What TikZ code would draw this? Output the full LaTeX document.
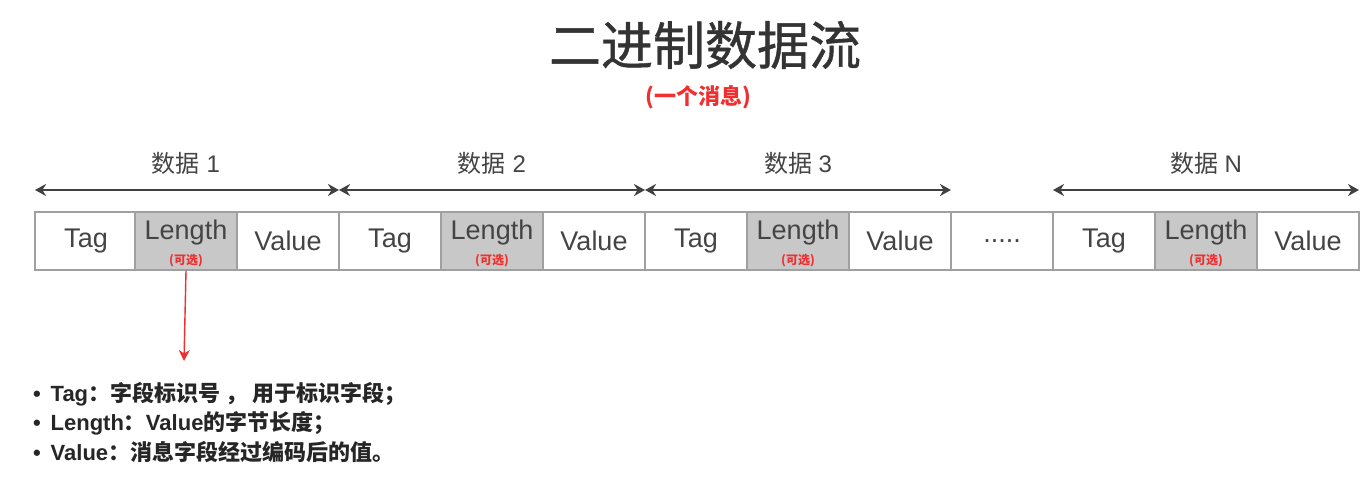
\documentclass[tikz,border=0pt]{standalone}
\usepackage{fontspec}
\setmainfont{Liberation Sans}
\newfontfamily\cjk{Noto Sans CJK SC}
\newfontfamily\cjkmed[FakeBold=0.8]{Noto Sans CJK SC}
\usetikzlibrary{arrows.meta}
\definecolor{txt}{HTML}{444444}
\definecolor{edge}{HTML}{A0A0A0}
\definecolor{lenfill}{HTML}{C8C8C8}
\definecolor{redc}{HTML}{F03030}
\tikzset{
  cell/.style={draw=edge, line width=1.2pt, fill=white, minimum width=102pt, minimum height=58pt, inner sep=0pt, text=txt, font=\fontsize{27}{29}\selectfont},
  lencell/.style={cell, fill=lenfill},
  lentxt/.style={text=txt, inner sep=0pt, font=\fontsize{27}{29}\selectfont},
  opttxt/.style={text=redc, inner sep=0pt, font=\cjk\bfseries\fontsize{12}{13}\selectfont},
  span/.style={{Stealth[length=11pt,width=12pt]}-{Stealth[length=11pt,width=12pt]}, line width=2.2pt, draw=black!75},
  spanlbl/.style={text=txt, font=\fontsize{24}{26}\selectfont, inner sep=0pt},
  bullet/.style={anchor=west, text=black!85, font=\bfseries\fontsize{22}{24}\selectfont, inner sep=0pt}
}
\begin{document}
\begin{tikzpicture}[x=1pt,y=-1pt]
\useasboundingbox[fill=white] (0,0) rectangle (1371,495);
% title
\node[text=black!80, font=\cjkmed\fontsize{52}{54}\selectfont, inner sep=0pt] (title) at (705,45) {二进制数据流};
\node[text=redc, font=\cjk\bfseries\fontsize{22}{24}\selectfont, inner sep=0pt] (sub) at (698,97) {(一个消息)};
% cells
\node[cell] (c1) at (86,241) {Tag};
\node[lencell] (c2) at (186,241) {};
\node[cell] (c3) at (288,241) {Value};
\node[cell] (c4) at (390,241) {Tag};
\node[lencell] (c5) at (492,241) {};
\node[cell] (c6) at (594,241) {Value};
\node[cell] (c7) at (696,241) {Tag};
\node[lencell] (c8) at (798,241) {};
\node[cell] (c9) at (900,241) {Value};
\node[cell] (c10) at (1002,241) {.....};
\node[cell] (c11) at (1104,241) {Tag};
\node[lencell] (c12) at (1206,241) {};
\node[cell] (c13) at (1308,241) {Value};
\foreach \c in {c2,c5,c8,c12}{
  \node[lentxt] (\c l) at ([yshift=8pt]\c.center) {Length};
  \node[opttxt] (\c o) at ([yshift=-20pt]\c.center) {(可选)};
}
% span arrows
\coordinate (s0) at (35,190);
\coordinate (s1) at (339,190);
\coordinate (s2) at (645,190);
\coordinate (s3) at (951,190);
\coordinate (s4) at (1053,190);
\coordinate (s5) at (1359,190);
\draw[span] (s0) -- (s1);
\draw[span] (s1) -- (s2);
\draw[span] (s2) -- (s3);
\draw[span] (s4) -- (s5);
\node[spanlbl] (l1) at (186,163) {{\cjk 数据} 1};
\node[spanlbl] (l2) at (492,163) {{\cjk 数据} 2};
\node[spanlbl] (l3) at (798,163) {{\cjk 数据} 3};
\node[spanlbl] (l4) at (1206,163) {{\cjk 数据} N};
% red arrow
\coordinate (rend) at (184,361);
\draw[draw=redc, line width=1.4pt, -{Stealth[length=11pt,width=11pt]}] (c2.south) -- (rend);
% bullets
\node[bullet] (b1) at (33,394) {•\, Tag{\cjk ：字段标识号 ， 用于标识字段；}};
\node[bullet] (b2) at (33,423) {•\, Length{\cjk ：}Value{\cjk 的字节长度；}};
\node[bullet] (b3) at (33,452) {•\, Value{\cjk ：消息字段经过编码后的值。}};
\end{tikzpicture}
\end{document}
